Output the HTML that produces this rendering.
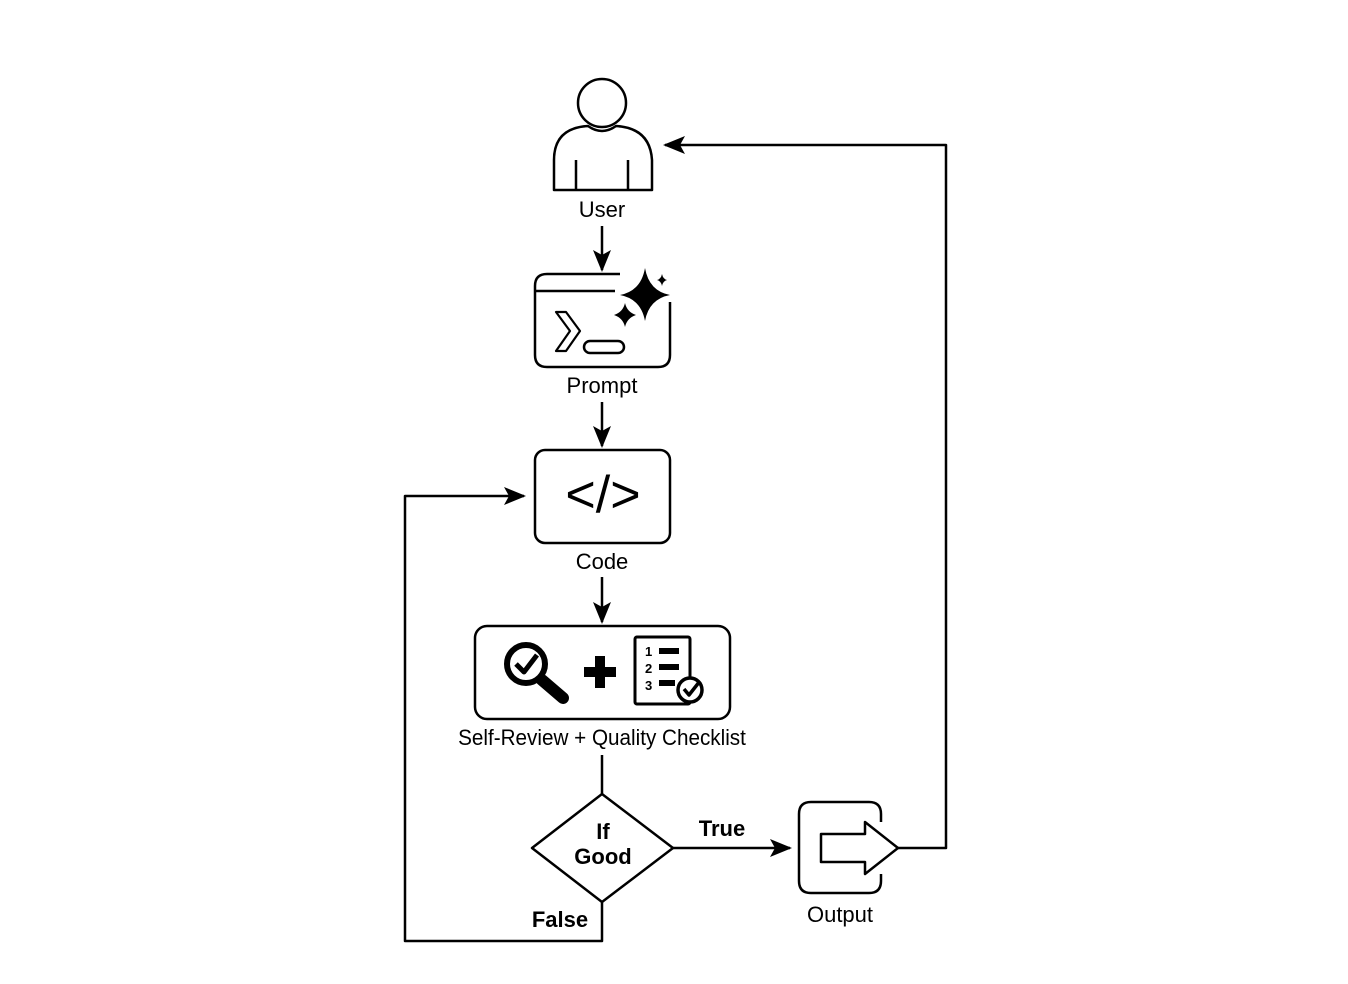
<!DOCTYPE html>
<html><head><meta charset="utf-8"><style>
html,body{margin:0;padding:0;background:#fff;width:1348px;height:984px;overflow:hidden}
svg{display:block}
text{font-family:"Liberation Sans",sans-serif;fill:#000}
</style></head><body>
<svg width="1348" height="984" viewBox="0 0 1348 984" xmlns="http://www.w3.org/2000/svg">
<defs>
<marker id="ar" markerWidth="22" markerHeight="18" refX="20" refY="9" orient="auto" markerUnits="userSpaceOnUse">
<path d="M0,0 L22,9 L0,18 L5,9 Z" fill="#000"/></marker>
</defs>
<g fill="none" stroke="#000" stroke-width="2.5" stroke-linejoin="round">
<!-- User -->
<circle cx="602" cy="103" r="24"/>
<path d="M554,190 V160 Q554,128 588,126 Q602,136 616,126 Q650,128 652,160 V190 Z"/>
<path d="M576,160 V190 M628,160 V190"/>
<!-- arrows -->
<path d="M602,226 V270" marker-end="url(#ar)"/>
<path d="M602,402 V446" marker-end="url(#ar)"/>
<path d="M602,577 V622" marker-end="url(#ar)"/>
<!-- Prompt -->
<path d="M620,274 H547 Q535,274 535,286 V355 Q535,367 547,367 H658 Q670,367 670,355 V302"/>
<path d="M536,291 H615"/>
<path d="M556,312 L566,312 L580,331 L566,351 L556,351 L570,331 Z" stroke-width="2.2"/>
<rect x="584" y="341" width="40" height="12" rx="6"/>
<!-- Code -->
<rect x="535" y="450" width="135" height="93" rx="10"/>
<!-- Review -->
<rect x="475" y="626" width="255" height="93" rx="12"/>
<circle cx="526" cy="664" r="19" stroke-width="6"/>
<path d="M516,664 L524,672 L537,655" stroke-width="5"/>
<path d="M542,680 L563,698" stroke-width="12" stroke-linecap="round"/>
<rect x="635" y="637" width="55" height="67" rx="2" stroke-width="3"/>
<circle cx="690" cy="690" r="12" stroke-width="3.5" fill="#fff"/>
<path d="M684,689 L689,695 L700,681" stroke-width="3.5"/>
<!-- diamond -->
<path d="M602,755 V794"/>
<path d="M602,794 L673,848 L602,902 L532,848 Z"/>
<path d="M673,848 H790" marker-end="url(#ar)"/>
<!-- output -->
<path d="M881,822 V814 Q881,802 869,802 H811 Q799,802 799,814 V881 Q799,893 811,893 H869 Q881,893 881,881 V874"/>
<path d="M821,834 H865 V822 L898,848 L865,874 V862 H821 Z"/>
<path d="M898,848 H946 V145 H665" marker-end="url(#ar)"/>
<path d="M602,902 V941 H405 V496 H524" marker-end="url(#ar)"/>
</g>
<!-- sparkles -->
<g fill="#000">
<path d="M645,268 Q649,291 670,295 Q649,299 645,321 Q641,299 620,295 Q641,291 645,268 Z"/>
<path d="M625,303 Q627,312 636,315 Q627,318 625,327 Q623,318 614,315 Q623,312 625,303 Z"/>
<path d="M662,274 Q663,279 667,280 Q663,281 662,286 Q661,281 657,280 Q661,279 662,274 Z"/>
<path d="M595,656 H605 V667 H616 V677 H605 V688 H595 V677 H584 V667 H595 Z"/>
<rect x="659" y="648" width="20" height="6"/>
<rect x="659" y="664" width="20" height="6"/>
<rect x="659" y="680" width="16" height="6"/>
</g>
<text x="645" y="656" font-size="13" font-weight="bold">1</text>
<text x="645" y="673" font-size="13" font-weight="bold">2</text>
<text x="645" y="690" font-size="13" font-weight="bold">3</text>
<text x="603" y="512" font-size="52" text-anchor="middle" font-family="DejaVu Sans Mono,monospace">&lt;/&gt;</text>
<g font-size="22" text-anchor="middle">
<text x="602" y="217">User</text>
<text x="602" y="393">Prompt</text>
<text x="602" y="569">Code</text>
<text x="840" y="922">Output</text>
<text x="602" y="745" transform="translate(602 0) scale(0.94 1) translate(-602 0)">Self-Review + Quality Checklist</text>
</g>
<g font-size="22" font-weight="bold" text-anchor="middle">
<text x="603" y="839">If</text>
<text x="603" y="864">Good</text>
<text x="722" y="836">True</text>
<text x="560" y="927">False</text>
</g>
</svg>
</body></html>
